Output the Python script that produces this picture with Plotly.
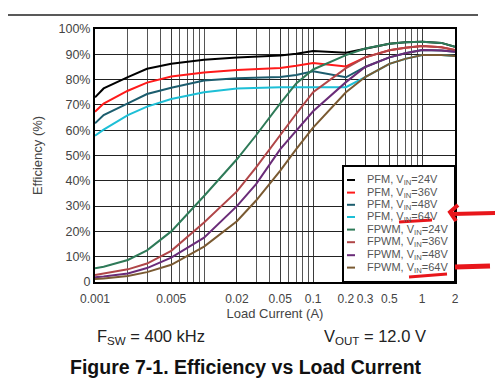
import plotly.graph_objects as go
import math

# ---------------- data ----------------
load_current = [0.001, 0.0012, 0.002, 0.003, 0.005, 0.01, 0.02, 0.03, 0.05, 0.07,
                0.1, 0.2, 0.3, 0.5, 0.7, 1.0, 1.5, 2.0]

pfm_24v = [73.0, 76.5, 81.0, 84.3, 86.3, 87.8, 88.7, 89.0, 89.5, 90.2,
           91.3, 90.6, 92.3, 94.2, 94.8, 95.0, 94.5, 93.0]
pfm_36v = [67.3, 70.5, 75.6, 78.8, 81.2, 82.8, 83.8, 84.2, 84.6, 85.5,
           86.6, 85.2, 88.8, 91.6, 92.6, 93.3, 92.8, 91.7]
pfm_48v = [62.7, 66.0, 70.6, 74.3, 76.8, 79.6, 80.5, 80.8, 81.0, 81.8,
           83.3, 80.9, 85.0, 88.8, 90.4, 91.7, 91.5, 91.0]
pfm_64v = [57.8, 60.2, 66.0, 69.3, 72.3, 75.0, 76.5, 76.8, 77.0, 77.0,
           77.0, 77.0, 81.0, 86.2, 88.2, 89.7, 89.7, 89.3]

fpwm_24v = [5.4, 6.0, 8.7, 12.5, 20.0, 34.0, 48.5, 58.0, 70.6, 78.5,
            84.0, 89.7, 92.3, 94.2, 94.8, 95.0, 94.5, 93.0]
fpwm_36v = [2.8, 3.3, 5.0, 7.3, 12.3, 23.5, 35.8, 45.3, 58.3, 66.5,
            75.0, 84.5, 88.8, 91.6, 92.6, 93.3, 92.8, 91.7]
fpwm_48v = [1.9, 2.2, 3.4, 5.5, 9.6, 17.5, 30.0, 38.7, 52.5, 59.7,
            67.5, 79.0, 85.0, 88.8, 90.4, 91.7, 91.5, 91.0]
fpwm_64v = [1.2, 1.4, 2.4, 3.9, 6.8, 14.0, 24.0, 32.2, 44.0, 52.5,
            61.0, 75.0, 81.0, 86.2, 88.2, 89.7, 89.7, 89.3]

series_names = ["PFM, V<sub>IN</sub>=24V", "PFM, V<sub>IN</sub>=36V",
                "PFM, V<sub>IN</sub>=48V", "PFM, V<sub>IN</sub>=64V",
                "FPWM, V<sub>IN</sub>=24V", "FPWM, V<sub>IN</sub>=36V",
                "FPWM, V<sub>IN</sub>=48V", "FPWM, V<sub>IN</sub>=64V"]
series_values = [pfm_24v, pfm_36v, pfm_48v, pfm_64v,
                 fpwm_24v, fpwm_36v, fpwm_48v, fpwm_64v]
series_colors = ["#000000", "#ff1a1a", "#1c5d6e", "#1dbfd6",
                 "#2e7a58", "#b04648", "#6a2c78", "#7a5a32"]

x_label_vals = [0.001, 0.005, 0.02, 0.05, 0.1, 0.2, 0.3, 0.5, 1.0, 2.0]
x_label_text = ["0.001", "0.005", "0.02", "0.05", "0.1", "0.2", "0.3", "0.5", "1", "2"]
x_minor_grid = [0.002, 0.003, 0.004, 0.006, 0.007, 0.008, 0.009, 0.01,
                0.03, 0.04, 0.06, 0.07, 0.08, 0.09, 0.4, 0.6, 0.7, 0.8, 0.9]
y_ticks = list(range(0, 101, 10))
y_labels = ["0"] + [f"{v}%" for v in y_ticks[1:]]

# ---------------- figure ----------------
fig = go.Figure()
for name, vals, col in zip(series_names, series_values, series_colors):
    fig.add_trace(go.Scatter(x=load_current, y=vals, mode="lines", name=name,
                             line=dict(color=col, width=2), showlegend=False))

FONT = "Liberation Sans, Arial, sans-serif"

# the page body adds an 8px margin; the figure is sized so it fits the 503x388 window
fig.update_layout(
    width=495, height=380,
    margin=dict(l=87, r=48, t=21, b=106),
    paper_bgcolor="white", plot_bgcolor="white",
    font=dict(family=FONT, size=12, color="#444444"),
    showlegend=False,
    xaxis=dict(type="log", range=[math.log10(0.001), math.log10(2.0)],
               tickvals=x_label_vals, ticktext=x_label_text,
               tickfont=dict(size=12), tickangle=0,
               showgrid=True, gridcolor="#3a3a3a", gridwidth=1,
               minor=dict(tickvals=x_minor_grid, showgrid=True,
                          gridcolor="#555555", gridwidth=1, ticks=""),
               showline=True, linecolor="black", linewidth=2, mirror=True,
               ticks="", zeroline=False, ticklabelstandoff=5,
               title=dict(text="Load Current (A)", standoff=1,
                          font=dict(size=13, color="#444444"))),
    yaxis=dict(range=[0, 100], tickvals=y_ticks, ticktext=y_labels,
               tickfont=dict(size=12.5),
               showgrid=True, gridcolor="#222222", gridwidth=1,
               showline=True, linecolor="black", linewidth=2, mirror=True,
               ticks="", zeroline=False,
               title=dict(text="Efficiency (%)", standoff=13,
                          font=dict(size=13, color="#444444"))),
)

# helpers: window pixel -> paper coordinates (plot area spans x 95..455, y 29..282)
def px_x(px):
    return (px - 95) / 360.0

def px_y(py):
    return (282 - py) / 253.0

# top rule line
fig.add_shape(type="line", xref="paper", yref="paper",
              x0=px_x(0), x1=px_x(478), y0=px_y(15), y1=px_y(15),
              line=dict(color="#222222", width=1.5))

# legend box (drawn by hand for the compact spacing of the original)
fig.add_shape(type="rect", xref="paper", yref="paper",
              x0=px_x(343), x1=px_x(455), y0=px_y(282), y1=px_y(166),
              fillcolor="white", line=dict(color="black", width=2), layer="above")
legend_rows = [180, 192.6, 204.8, 217, 229.6, 242.2, 255.2, 267.6]
for name, col, ry in zip(series_names, series_colors, legend_rows):
    fig.add_shape(type="line", xref="paper", yref="paper",
                  x0=px_x(347), x1=px_x(355), y0=px_y(ry), y1=px_y(ry),
                  line=dict(color=col, width=2), layer="above")
    fig.add_annotation(xref="paper", yref="paper", x=px_x(365), y=px_y(ry),
                       xanchor="left", yanchor="middle", text=name, showarrow=False,
                       font=dict(size=11, color="#555555"))

# footnote annotations
fig.add_annotation(xref="paper", yref="paper", x=px_x(151), y=px_y(337),
                   text="F<sub>SW</sub> = 400 kHz", showarrow=False,
                   xanchor="center", yanchor="middle",
                   font=dict(size=16.5, color="#222222"))
fig.add_annotation(xref="paper", yref="paper", x=px_x(375), y=px_y(337),
                   text="V<sub>OUT</sub> = 12.0 V", showarrow=False,
                   xanchor="center", yanchor="middle",
                   font=dict(size=16.5, color="#222222"))
fig.add_annotation(xref="paper", yref="paper", x=px_x(246), y=px_y(367),
                   text="<b>Figure 7-1. Efficiency vs Load Current</b>", showarrow=False,
                   xanchor="center", yanchor="middle",
                   font=dict(size=19.5, color="#111111"))

# red hand-drawn markup
RED = "#e8161b"
def path(points):
    return "M " + " L ".join(f"{px_x(a):.5f},{px_y(b):.5f}" for a, b in points)

marks = [([(399, 222), (432, 220)], 3),
         ([(458, 205), (450, 212), (456, 221)], 4),
         ([(452, 214), (500, 213)], 4),
         ([(409, 277), (447, 274)], 3),
         ([(455, 267), (490, 266)], 5)]
for pts, w in marks:
    fig.add_shape(type="path", xref="paper", yref="paper", path=path(pts),
                  line=dict(color=RED, width=w), layer="above")

fig.write_html("out.html")
